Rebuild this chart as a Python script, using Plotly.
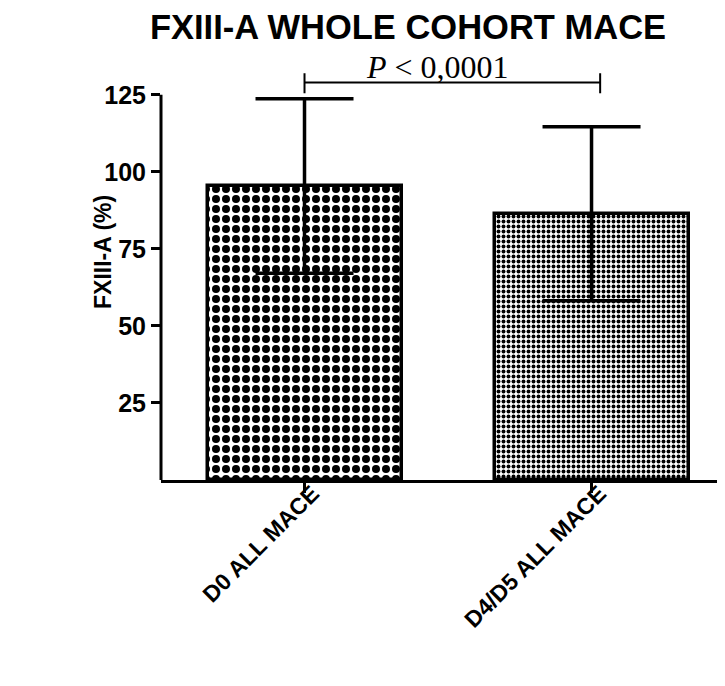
import plotly.graph_objects as go

categories = ["D0 ALL MACE", "D4/D5 ALL MACE"]
means = [95.4, 86.4]
sds = [28.3, 28.2]
y_ticks = [25, 50, 75, 100, 125]
p_text = "<i>P</i> &lt; 0,0001"
title_text = "FXIII-A WHOLE COHORT MACE"
y_title = "FXIII-A (%)"

SANS = "Liberation Sans"
SERIF = "Liberation Serif"

# page body has an 8px margin, so the figure is sized 8px smaller
W, H = 717, 678

fig = go.Figure()
fig.add_trace(go.Bar(
    x=[0, 1], y=means,
    width=0.676,
    marker=dict(
        color="white",
        line=dict(color="black", width=3.5),
        pattern=dict(shape=[".", "."], size=[10, 5], solidity=0.5,
                     fgcolor="black", bgcolor="white", fillmode="replace"),
    ),
    error_y=dict(type="data", array=sds, symmetric=True,
                 color="black", thickness=3.5, width=49),
    showlegend=False,
))

fig.update_layout(
    width=W, height=H,
    margin=dict(l=153, r=0, t=56, b=206),
    paper_bgcolor="white", plot_bgcolor="white",
    title=dict(text="<b>" + title_text + "</b>", x=400 / W, xref="container",
               y=1 - 19 / H, yref="container", xanchor="center", yanchor="middle",
               font=dict(family=SANS, size=34.5, color="black")),
    xaxis=dict(range=[-0.5, 1.465], tickvals=[0, 1], ticktext=categories,
               tickangle=-45, showline=True, linecolor="black", linewidth=3,
               ticks="outside", ticklen=10, tickwidth=3, tickcolor="black",
               showgrid=False, zeroline=False,
               ticklabelstandoff=-22, ticklabelshift=8,
               tickfont=dict(family=SANS, size=23, color="black", weight="bold")),
    yaxis=dict(range=[0, 135], tickvals=y_ticks, showline=False,
               ticks="outside", ticklen=9, tickwidth=3, tickcolor="black",
               showgrid=False, zeroline=False,
               tickfont=dict(family=SANS, size=25, color="black", weight="bold")),
    bargap=0,
)

# y axis line from 0 to 125
fig.add_shape(type="line", xref="paper", yref="y", x0=0, x1=0, y0=0, y1=125,
              line=dict(color="black", width=3))

# significance bracket
fig.add_shape(type="line", xref="x", yref="y", x0=0, x1=1.03, y0=129, y1=129,
              line=dict(color="black", width=2))
fig.add_shape(type="line", xref="x", yref="y", x0=0, x1=0, y0=125.5, y1=132,
              line=dict(color="black", width=2))
fig.add_shape(type="line", xref="x", yref="y", x0=1.03, x1=1.03, y0=125.5, y1=132,
              line=dict(color="black", width=2))
fig.add_annotation(x=0.462, y=134, xref="x", yref="y", text=p_text, showarrow=False,
                   xanchor="center", yanchor="middle",
                   font=dict(family=SERIF, size=32, color="black"))

# y axis title
fig.add_annotation(x=-0.103, y=0.548, xref="paper", yref="paper",
                   text="<b>" + y_title + "</b>", textangle=-90, showarrow=False,
                   xanchor="center", yanchor="middle",
                   font=dict(family=SANS, size=23, color="black"))

fig.write_html("out.html")
